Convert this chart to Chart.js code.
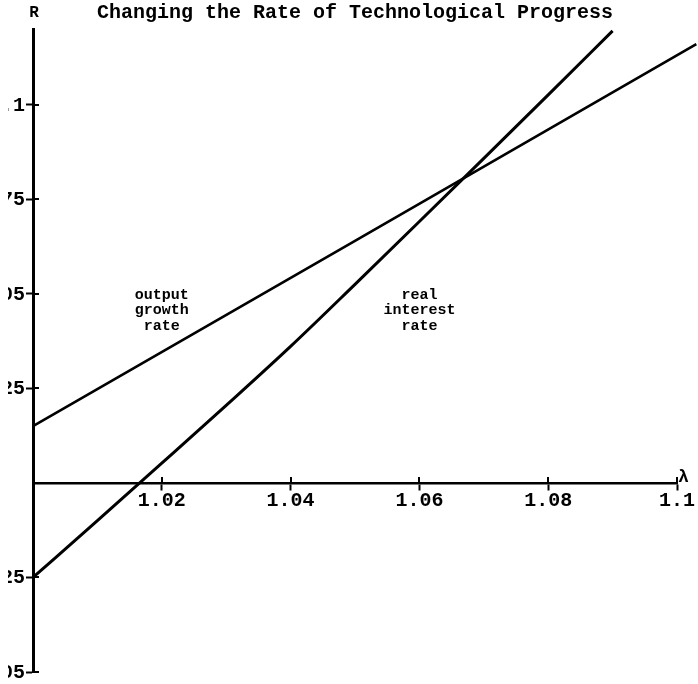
<!DOCTYPE html>
<html><head><meta charset="utf-8">
<script src="https://cdn.jsdelivr.net/npm/chart.js@4"></script>
<style>
html,body{margin:0;padding:0;background:#fff;overflow:hidden;width:698px;height:684px;}
#wrap{position:absolute;left:8px;top:0;width:690px;height:684px;overflow:hidden;}
#c{position:absolute;left:-38px;top:0;}
</style></head>
<body><div id="wrap"><canvas id="c" width="728" height="684"></canvas></div>
<script>
// ---- data ----
const titleText = 'Changing the Rate of Technological Progress';
const lambdaTicks = [1.02, 1.04, 1.06, 1.08, 1.1];
const lambdaTickLabels = ['1.02', '1.04', '1.06', '1.08', '1.1'];
const rateTicks = [0.1, 0.075, 0.05, 0.025, -0.025, -0.05];
const rateTickLabels = ['0.1', '0.075', '0.05', '0.025', '-0.025', '-0.05'];
const outputLambda = [1.0, 1.05, 1.103];
const outputRate = [0.015, 0.064, 0.116];
const interestLambda = [1.0, 1.01, 1.02, 1.03, 1.04, 1.05, 1.06, 1.07, 1.08, 1.09];
const interestRate = [-0.025, -0.0100, 0.0052, 0.0205, 0.0361, 0.0525, 0.0691, 0.0858, 0.1026, 0.1195];
const outputLabel = ['output', 'growth', 'rate'];
const interestLabel = ['real', 'interest', 'rate'];
const labelLambda = [1.020, 1.060];
const labelRate = 0.0497;
const xAxisName = 'λ';
const yAxisName = 'R';

const MONO = '"Liberation Mono", "Courier New", monospace';
const toPts = (xs, ys) => xs.map((v, i) => ({x: v, y: ys[i]}));

const extras = {
  id: 'extras',
  afterDraw(chart) {
    const {ctx, scales: {x, y}} = chart;
    const x0 = x.getPixelForValue(1.0), y0 = y.getPixelForValue(0);
    ctx.save();
    ctx.strokeStyle = '#000'; ctx.lineWidth = 2;
    ctx.beginPath();
    lambdaTicks.forEach(v => { const px = Math.round(x.getPixelForValue(v)); ctx.moveTo(px, y0 - 6); ctx.lineTo(px, y0); });
    rateTicks.forEach(v => { const py = Math.round(y.getPixelForValue(v)); ctx.moveTo(x0, py); ctx.lineTo(x0 + 6, py); });
    ctx.stroke();
    ctx.fillStyle = '#000';
    // y tick labels, right-aligned left of the axis
    ctx.font = 'bold 20px ' + MONO;
    ctx.textAlign = 'right'; ctx.textBaseline = 'middle';
    rateTicks.forEach((v, i) => ctx.fillText(rateTickLabels[i], x0 - 8, y.getPixelForValue(v) + 1));
    ctx.textAlign = 'center';
    ctx.font = 'bold 15px ' + MONO;
    [outputLabel, interestLabel].forEach((lines, k) => {
      const px = x.getPixelForValue(labelLambda[k]);
      const py = y.getPixelForValue(labelRate);
      lines.forEach((t, i) => ctx.fillText(t, px, py + i * 15.5));
    });
    ctx.font = 'bold 16px ' + MONO;
    ctx.fillText(yAxisName, x0 + 1, y.top - 16);
    ctx.textAlign = 'left';
    ctx.font = 'bold 18px ' + MONO;
    ctx.fillText(xAxisName, x.right + 1, y0 - 5);
    ctx.restore();
  }
};

const tickFont = {family: MONO, weight: 'bold', size: 20};
new Chart(document.getElementById('c'), {
  type: 'line',
  data: {
    datasets: [
      {data: toPts(outputLambda, outputRate), borderColor: '#000', borderWidth: 2.6, pointRadius: 0, tension: 0, clip: false},
      {data: toPts(interestLambda, interestRate), borderColor: '#000', borderWidth: 3, pointRadius: 0, cubicInterpolationMode: 'monotone', clip: false}
    ]
  },
  options: {
    responsive: false, animation: false, devicePixelRatio: 1,
    layout: {padding: {left: 63, right: 21, top: 1, bottom: 12}},
    plugins: {
      legend: {display: false}, tooltip: {enabled: false},
      title: {display: true, text: titleText, color: '#000', fullSize: false,
        font: {family: MONO, weight: 'bold', size: 20}, padding: {top: 0, bottom: 4}}
    },
    scales: {
      x: {
        type: 'linear', min: 1.0, max: 1.1, position: {y: 0},
        afterFit: s => { s.height = 0; },
        afterBuildTicks: s => { s.ticks = lambdaTicks.map(v => ({value: v})); },
        ticks: {color: '#000', font: tickFont, padding: 0, maxRotation: 0, autoSkip: false,
          callback: (v, i) => lambdaTickLabels[i]},
        grid: {drawOnChartArea: false, drawTicks: true, tickLength: 6, tickWidth: 2, tickColor: '#000'},
        border: {display: true, color: '#000', width: 2.5}
      },
      y: {
        type: 'linear', min: -0.05, max: 0.12, position: {x: 1.0},
        afterFit: s => { s.width = 0; },
        afterBuildTicks: s => { s.ticks = rateTicks.map(v => ({value: v})); },
        ticks: {display: false},
        grid: {drawOnChartArea: false, drawTicks: true, tickLength: 6, tickWidth: 2, tickColor: '#000'},
        border: {display: true, color: '#000', width: 3}
      }
    }
  },
  plugins: [extras]
});
</script>
</body></html>
